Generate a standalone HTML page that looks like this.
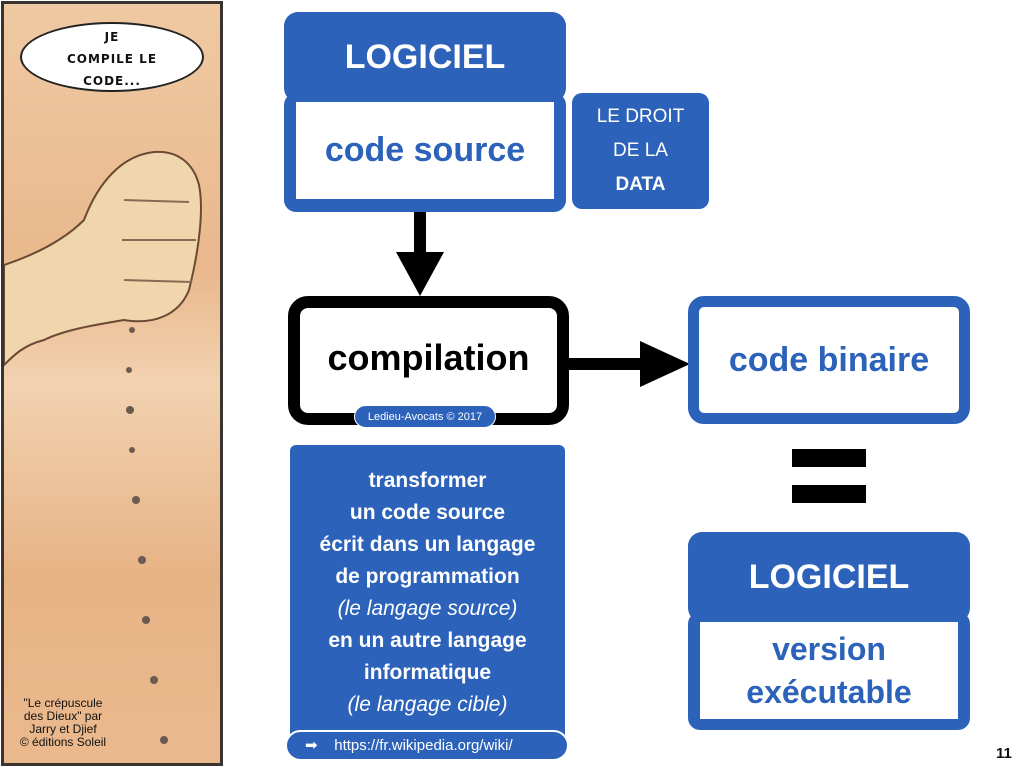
<!DOCTYPE html>
<html><head><meta charset="utf-8"><style>
body{margin:0;width:1024px;height:768px;background:#fff;position:relative;overflow:hidden;font-family:"Liberation Sans","DejaVu Sans",sans-serif}
.a{position:absolute;box-sizing:border-box}
.blue{background:#2c62b9;color:#fff}
.c{display:flex;align-items:center;justify-content:center;text-align:center}
</style></head><body>
<!-- comic panel -->
<div class="a" style="left:1px;top:1px;width:222px;height:765px;border:3px solid #3a3430;background:linear-gradient(180deg,#efc9a3 0%,#e9b88c 35%,#f2d2b0 50%,#e7b386 75%,#eab98d 100%)"></div>
<div class="a" style="left:20px;top:22px;width:184px;height:70px;border:2px solid #222;border-radius:50%;background:#fff"></div>
<div class="a c" style="left:20px;top:28px;width:184px;height:62px;font:bold 12px/22px 'DejaVu Sans',sans-serif;letter-spacing:1px;color:#111">JE<br>COMPILE LE<br>CODE...</div>
<svg class="a" style="left:4px;top:140px" width="216" height="620">
<path d="M0 125 C30 115 60 100 80 80 C95 40 120 15 150 12 C175 10 190 25 195 45 C200 70 195 110 185 150 C175 175 150 185 120 180 C90 185 60 190 40 200 C20 205 10 215 0 225 Z" fill="#f0d6ad" stroke="#6a4a35" stroke-width="2"/>
<path d="M120 60 L185 62 M118 100 L192 100 M120 140 L188 142" stroke="#8a6a55" stroke-width="2" fill="none"/>
<g fill="#6a5a50"><circle cx="128" cy="190" r="3"/><circle cx="125" cy="230" r="3"/><circle cx="126" cy="270" r="4"/><circle cx="128" cy="310" r="3"/><circle cx="132" cy="360" r="4"/><circle cx="138" cy="420" r="4"/><circle cx="142" cy="480" r="4"/><circle cx="150" cy="540" r="4"/><circle cx="160" cy="600" r="4"/></g>
</svg>
<div class="a" style="left:6px;top:697px;width:114px;font:12px/13px 'Liberation Sans',sans-serif;color:#111;text-align:center">"Le crépuscule<br>des Dieux" par<br>Jarry et Djief<br>© éditions Soleil</div>

<!-- top LOGICIEL -->
<div class="a blue c" style="left:284px;top:12px;width:282px;height:90px;border-radius:14px;font-weight:bold;font-size:34px">LOGICIEL</div>
<div class="a blue" style="left:284px;top:93px;width:282px;height:119px;border-radius:12px"></div>
<div class="a c" style="left:296px;top:102px;width:258px;height:97px;background:#fff;color:#2c62b9;font-weight:bold;font-size:34px">code source</div>
<div class="a blue c" style="left:572px;top:93px;width:137px;height:116px;border-radius:10px;font-size:19px;line-height:34px"><div>LE DROIT<br>DE LA<br><b>DATA</b></div></div>

<!-- arrows -->
<div class="a" style="left:414px;top:212px;width:12px;height:50px;background:#000"></div>
<svg class="a" style="left:396px;top:252px" width="48" height="44"><polygon points="0,0 48,0 24,44" fill="#000"/></svg>
<div class="a" style="left:569px;top:358px;width:76px;height:12px;background:#000"></div>
<svg class="a" style="left:640px;top:341px" width="50" height="46"><polygon points="0,0 50,23 0,46" fill="#000"/></svg>

<!-- compilation -->
<div class="a c" style="left:288px;top:296px;width:281px;height:129px;border:12px solid #000;border-radius:20px;font-weight:bold;font-size:36px;color:#000;padding-bottom:6px">compilation</div>
<div class="a blue c" style="left:354px;top:405px;width:142px;height:23px;border-radius:12px;border:1px solid #fff;font-size:11px">Ledieu-Avocats © 2017</div>

<!-- code binaire -->
<div class="a c" style="left:688px;top:296px;width:282px;height:128px;border:11px solid #2c62b9;border-radius:16px;color:#2c62b9;font-weight:bold;font-size:34px">code binaire</div>

<!-- equals -->
<div class="a" style="left:792px;top:449px;width:74px;height:18px;background:#000"></div>
<div class="a" style="left:792px;top:485px;width:74px;height:18px;background:#000"></div>

<!-- bottom LOGICIEL -->
<div class="a blue c" style="left:688px;top:532px;width:282px;height:90px;border-radius:14px;font-weight:bold;font-size:34px">LOGICIEL</div>
<div class="a blue" style="left:688px;top:612px;width:282px;height:118px;border-radius:12px"></div>
<div class="a c" style="left:700px;top:622px;width:258px;height:97px;background:#fff;color:#2c62b9;font-weight:bold;font-size:32px;line-height:43px">version<br>exécutable</div>

<!-- description -->
<div class="a blue" style="left:290px;top:445px;width:275px;height:300px;border-radius:6px 6px 0 0;text-align:center;font-size:21px;line-height:32px;padding-top:20px">
<b>transformer<br>un code source<br>écrit dans un langage<br>de programmation</b><br><i>(le langage source)</i><br><b>en un autre langage<br>informatique</b><br><i>(le langage cible)</i></div>
<div class="a blue" style="left:285px;top:730px;width:284px;height:31px;border-radius:16px;border:2px solid #fff;font-size:15px;line-height:27px;padding-left:18px">➡&nbsp;&nbsp;&nbsp;&nbsp;https://fr.wikipedia.org/wiki/</div>

<div class="a" style="left:996px;top:745px;font-size:15px;font-weight:bold;color:#111">11</div>
</body></html>
